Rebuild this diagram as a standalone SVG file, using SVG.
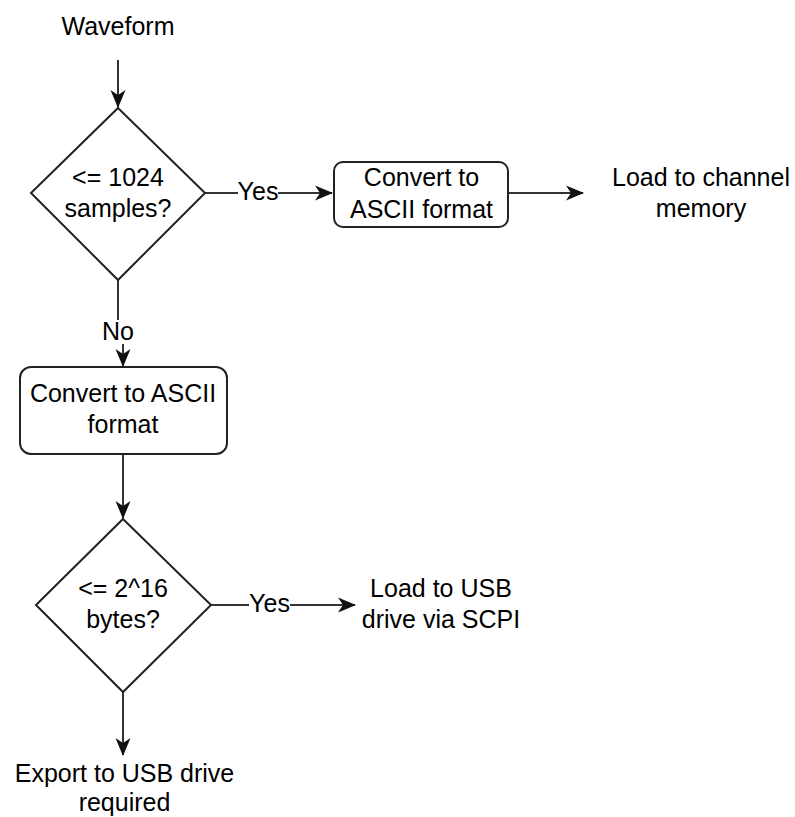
<svg xmlns="http://www.w3.org/2000/svg" width="795" height="817" viewBox="0 0 795 817">
  <style>
    text { font-family: "Liberation Sans", Arial, sans-serif; font-size: 25px; fill: #000; text-anchor: middle; }
    .shape { fill: #fff; stroke: #222; stroke-width: 2; }
    .edge { fill: none; stroke: #333; stroke-width: 2; }
    .lbl-bg { fill: #fff; }
  </style>
  <defs>
    <marker id="arrow" markerUnits="userSpaceOnUse" viewBox="0 0 18 16" refX="17" refY="8" markerWidth="18" markerHeight="16" orient="auto">
      <path d="M0,0.5 L18,8 L0,15.5 L5,8 Z" fill="#111"/>
    </marker>
  </defs>

  <rect width="795" height="817" fill="#fff"/>

  <!-- connectors -->
  <g id="edges">
    <path class="edge" d="M118,60 V107" marker-end="url(#arrow)"/>
    <path class="edge" d="M205,193 H332" marker-end="url(#arrow)"/>
    <path class="edge" d="M508,193 H583" marker-end="url(#arrow)"/>
    <path class="edge" d="M118,280 V331 H123 V366" marker-end="url(#arrow)"/>
    <path class="edge" d="M123,454 V518" marker-end="url(#arrow)"/>
    <path class="edge" d="M211,605 H355" marker-end="url(#arrow)"/>
    <path class="edge" d="M123,692 V755" marker-end="url(#arrow)"/>
    <!-- edge labels -->
    <rect class="lbl-bg" x="238" y="180" width="40" height="24"/>
    <text x="258" y="200">Yes</text>
    <rect class="lbl-bg" x="249" y="592" width="41" height="24"/>
    <text x="269.5" y="612">Yes</text>
    <rect class="lbl-bg" x="101" y="320" width="34" height="24"/>
    <text x="118" y="340">No</text>
  </g>

  <g id="start">
    <text x="118" y="35">Waveform</text>
  </g>

  <g id="check-samples">
    <polygon class="shape" points="118,108 205,193 118,280 31,193"/>
    <text x="118" y="186">&lt;= 1024</text>
    <text x="118" y="217">samples?</text>
  </g>

  <g id="convert-small">
    <rect class="shape" x="334" y="162" width="174" height="65" rx="9"/>
    <text x="421.5" y="186">Convert to</text>
    <text x="421.5" y="218">ASCII format</text>
  </g>

  <g id="load-channel">
    <text x="701" y="186">Load to channel</text>
    <text x="701" y="217">memory</text>
  </g>

  <g id="convert-large">
    <rect class="shape" x="20" y="367" width="207" height="87" rx="11"/>
    <text x="123" y="402">Convert to ASCII</text>
    <text x="123" y="433">format</text>
  </g>

  <g id="check-bytes">
    <polygon class="shape" points="123,519 211,605 123,692 36,605"/>
    <text x="123" y="597">&lt;= 2^16</text>
    <text x="123" y="628">bytes?</text>
  </g>

  <g id="load-usb">
    <text x="441" y="597">Load to USB</text>
    <text x="441" y="628">drive via SCPI</text>
  </g>

  <g id="export-usb">
    <text x="124.5" y="782">Export to USB drive</text>
    <text x="124.5" y="811">required</text>
  </g>
</svg>
